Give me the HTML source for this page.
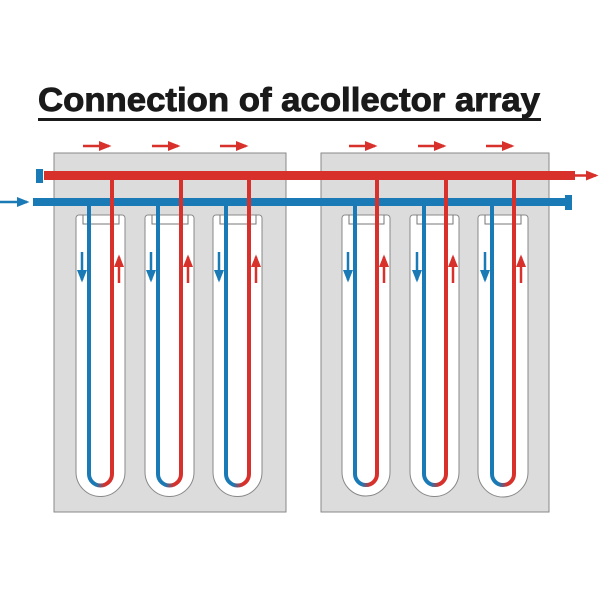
<!DOCTYPE html>
<html><head><style>body{margin:0;background:#fff}svg{display:block}</style></head><body>
<svg width="600" height="600" viewBox="0 0 600 600" xmlns="http://www.w3.org/2000/svg">
<defs>
<linearGradient id="g" x1="0" x2="1" y1="0" y2="0"><stop offset="0.3" stop-color="#1a7ab5"/><stop offset="0.7" stop-color="#d8302a"/></linearGradient>
<marker id="ar" markerWidth="5" markerHeight="4" refX="4" refY="2" orient="auto" markerUnits="strokeWidth"><path d="M0,0L5,2L0,4z" fill="#d8302a"/></marker>
<marker id="ab" markerWidth="5" markerHeight="4" refX="4" refY="2" orient="auto" markerUnits="strokeWidth"><path d="M0,0L5,2L0,4z" fill="#1a7ab5"/></marker>
</defs>
<text x="38" y="111" font-family="Liberation Sans, Arial, sans-serif" font-weight="bold" font-size="33" textLength="502" lengthAdjust="spacingAndGlyphs" fill="#1a1a1a" stroke="#1a1a1a" stroke-width="0.9">Connection of acollector array</text>
<rect x="38" y="118" width="503" height="3" fill="#1a1a1a"/>
<rect x="54" y="153" width="232" height="359" fill="#dcdcdc" stroke="#888" stroke-width="1"/>
<rect x="321" y="153" width="228" height="359" fill="#dcdcdc" stroke="#888" stroke-width="1"/>
<g fill="#fff" stroke="#888" stroke-width="1">
<path d="M76,218 a3,3 0 0 1 3,-3 h43 a3,3 0 0 1 3,3 V472 a24.5,24.5 0 0 1 -49,0 Z"/>
<path d="M145,218 a3,3 0 0 1 3,-3 h43 a3,3 0 0 1 3,3 V472 a24.5,24.5 0 0 1 -49,0 Z"/>
<path d="M213,218 a3,3 0 0 1 3,-3 h43 a3,3 0 0 1 3,3 V472 a24.5,24.5 0 0 1 -49,0 Z"/>
<path d="M342,218 a3,3 0 0 1 3,-3 h42 a3,3 0 0 1 3,3 V472 a24,24 0 0 1 -48,0 Z"/>
<path d="M410,218 a3,3 0 0 1 3,-3 h43 a3,3 0 0 1 3,3 V472 a24.5,24.5 0 0 1 -49,0 Z"/>
<path d="M478,218 a3,3 0 0 1 3,-3 h44 a3,3 0 0 1 3,3 V472 a25,25 0 0 1 -50,0 Z"/>
</g>
<g fill="none" stroke="#777" stroke-width="1">
<path d="M83,215 V224 H119 V215"/><path d="M152,215 V224 H188 V215"/><path d="M220,215 V224 H256 V215"/>
<path d="M349,215 V224 H384 V215"/><path d="M417,215 V224 H453 V215"/><path d="M485,215 V224 H521 V215"/>
</g>
<g fill="none" stroke-width="4">
<path d="M89,202 V474 a11.5,11.5 0 0 0 23,0" stroke="url(#g)"/>
<path d="M158,202 V474 a11.5,11.5 0 0 0 23,0" stroke="url(#g)"/>
<path d="M226,202 V474 a11.5,11.5 0 0 0 23,0" stroke="url(#g)"/>
<path d="M355,202 V474 a11,11 0 0 0 22,0" stroke="url(#g)"/>
<path d="M424,202 V474 a11,11 0 0 0 22,0" stroke="url(#g)"/>
<path d="M492,202 V474 a11,11 0 0 0 22,0" stroke="url(#g)"/>
</g>
<rect x="33" y="198" width="535" height="8" fill="#1a7ab5"/>
<rect x="565" y="195" width="7" height="15" fill="#1a7ab5"/>
<g stroke="#d8302a" stroke-width="4">
<line x1="112" y1="175" x2="112" y2="474"/><line x1="181" y1="175" x2="181" y2="474"/><line x1="249" y1="175" x2="249" y2="474"/>
<line x1="377" y1="175" x2="377" y2="474"/><line x1="446" y1="175" x2="446" y2="474"/><line x1="514" y1="175" x2="514" y2="474"/>
</g>
<rect x="44" y="171" width="531" height="9" fill="#d8302a"/>
<rect x="36" y="169" width="7" height="14" fill="#1a7ab5"/>
<line x1="574" y1="175.5" x2="596" y2="175.5" stroke="#d8302a" stroke-width="2.5" marker-end="url(#ar)"/>
<line x1="0" y1="202" x2="27" y2="202" stroke="#1a7ab5" stroke-width="2.5" marker-end="url(#ab)"/>
<g stroke="#d8302a" stroke-width="2.5" marker-end="url(#ar)">
<line x1="83" y1="146" x2="109" y2="146"/><line x1="152" y1="146" x2="178" y2="146"/><line x1="220" y1="146" x2="246" y2="146"/>
<line x1="349" y1="146" x2="375" y2="146"/><line x1="418" y1="146" x2="444" y2="146"/><line x1="486" y1="146" x2="512" y2="146"/>
<line x1="119" y1="283" x2="119" y2="257"/><line x1="188" y1="283" x2="188" y2="257"/><line x1="256" y1="283" x2="256" y2="257"/>
<line x1="384" y1="283" x2="384" y2="257"/><line x1="453" y1="283" x2="453" y2="257"/><line x1="521" y1="283" x2="521" y2="257"/>
</g>
<g stroke="#1a7ab5" stroke-width="2.5" marker-end="url(#ab)">
<line x1="82" y1="252" x2="82" y2="280"/><line x1="151" y1="252" x2="151" y2="280"/><line x1="219" y1="252" x2="219" y2="280"/>
<line x1="348" y1="252" x2="348" y2="280"/><line x1="417" y1="252" x2="417" y2="280"/><line x1="485" y1="252" x2="485" y2="280"/>
</g>
</svg>
</body></html>
